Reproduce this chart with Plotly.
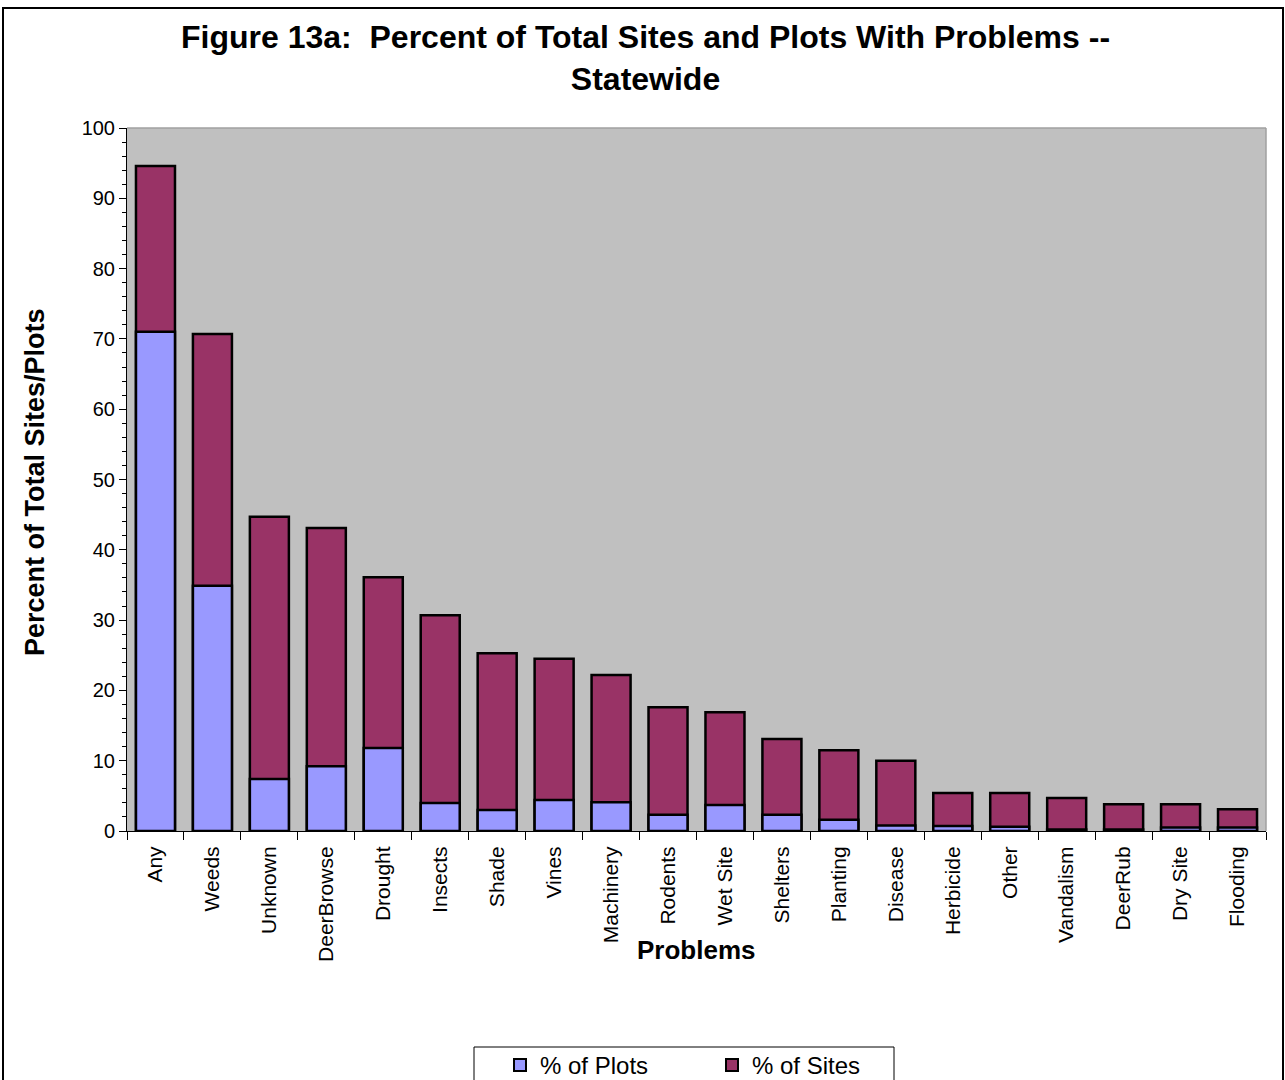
import plotly.graph_objects as go

# Problem categories and the share of sites / plots reporting each one
problems = ["Any", "Weeds", "Unknown", "DeerBrowse", "Drought", "Insects", "Shade",
            "Vines", "Machinery", "Rodents", "Wet Site", "Shelters", "Planting",
            "Disease", "Herbicide", "Other", "Vandalism", "DeerRub", "Dry Site", "Flooding"]
pct_sites = [94.6, 70.7, 44.7, 43.1, 36.1, 30.7, 25.3, 24.5, 22.2, 17.6, 16.9,
             13.1, 11.5, 10.0, 5.4, 5.4, 4.7, 3.8, 3.8, 3.1]
pct_plots = [71.0, 34.9, 7.4, 9.2, 11.8, 4.0, 3.0, 4.4, 4.1, 2.3, 3.7,
             2.3, 1.6, 0.8, 0.7, 0.6, 0.2, 0.2, 0.5, 0.5]

FONT = "Arial, Liberation Sans, sans-serif"
W, H = 1285, 1080
L, R, T, B = 127, 1266, 128, 831  # plot area in pixels


def px_x(p):
    return (p - L) / (R - L)


def px_y(p):
    return (B - p) / (B - T)


fig = go.Figure()
# Sites drawn first, plots overlaid in front
fig.add_trace(go.Bar(
    x=problems, y=pct_sites, name="% of Sites",
    marker=dict(color="#993366", line=dict(color="black", width=2.5)),
    legendrank=2,
))
fig.add_trace(go.Bar(
    x=problems, y=pct_plots, name="% of Plots",
    marker=dict(color="#9999FF", line=dict(color="black", width=2.5)),
    legendrank=1,
))

fig.update_layout(
    width=W, height=H,
    margin=dict(l=L, r=W - R, t=T, b=H - B, autoexpand=False),
    paper_bgcolor="white",
    plot_bgcolor="#C0C0C0",
    barmode="overlay",
    bargap=0.315,
    font=dict(family=FONT, color="black"),
    showlegend=True,
    legend=dict(
        orientation="h",
        x=px_x(500), xanchor="left",
        y=px_y(1043), yanchor="top",
        borderwidth=0,
        bgcolor="rgba(0,0,0,0)",
        font=dict(size=24, family=FONT, color="black"),
        traceorder="normal",
        entrywidth=167,
        itemsizing="constant",
    ),
    xaxis=dict(
        type="category",
        tickangle=-90,
        tickfont=dict(size=21, family=FONT),
        ticks="outside", tickson="boundaries", ticklen=8, tickcolor="black",
        ticklabelstandoff=6,
        showline=True, linecolor="black", linewidth=1,
        showgrid=False, automargin=False,
    ),
    yaxis=dict(
        range=[0, 100],
        dtick=10,
        tickfont=dict(size=20, family=FONT),
        ticks="outside", ticklen=7, tickcolor="black",
        minor=dict(dtick=2, ticks="outside", ticklen=4, tickcolor="black", showgrid=False),
        showline=True, linecolor="black", linewidth=1,
        showgrid=False, zeroline=False, automargin=False,
    ),
    annotations=[
        dict(text="<b>Figure 13a:  Percent of Total Sites and Plots With Problems --<br>Statewide</b>",
             xref="paper", yref="paper", x=px_x(645), y=px_y(58),
             xanchor="center", yanchor="middle", showarrow=False,
             font=dict(size=32, family=FONT, color="black")),
        dict(text="<b>Percent of Total Sites/Plots</b>",
             xref="paper", yref="paper", x=px_x(35), y=px_y(482),
             xanchor="center", yanchor="middle", textangle=-90, showarrow=False,
             font=dict(size=27, family=FONT, color="black")),
        dict(text="<b>Problems</b>",
             xref="paper", yref="paper", x=px_x(696), y=px_y(950),
             xanchor="center", yanchor="middle", showarrow=False,
             font=dict(size=26, family=FONT, color="black")),
    ],
    shapes=[
        # outer chart frame
        dict(type="rect", xref="paper", yref="paper",
             x0=px_x(3), x1=px_x(1283), y0=px_y(1095), y1=px_y(8),
             line=dict(color="black", width=2), fillcolor="rgba(0,0,0,0)", layer="below"),
        # legend box
        dict(type="rect", xref="paper", yref="paper",
             x0=px_x(474), x1=px_x(894), y0=px_y(1095), y1=px_y(1047),
             line=dict(color="black", width=1), fillcolor="white", layer="below"),
        # plot area top/right edge
        dict(type="line", xref="paper", yref="paper", x0=0, x1=1, y0=1, y1=1,
             line=dict(color="#A0A0A0", width=1.5)),
        dict(type="line", xref="paper", yref="paper", x0=1, x1=1, y0=0, y1=1,
             line=dict(color="#A0A0A0", width=1.5)),
    ],
)

fig.write_html("out.html")
